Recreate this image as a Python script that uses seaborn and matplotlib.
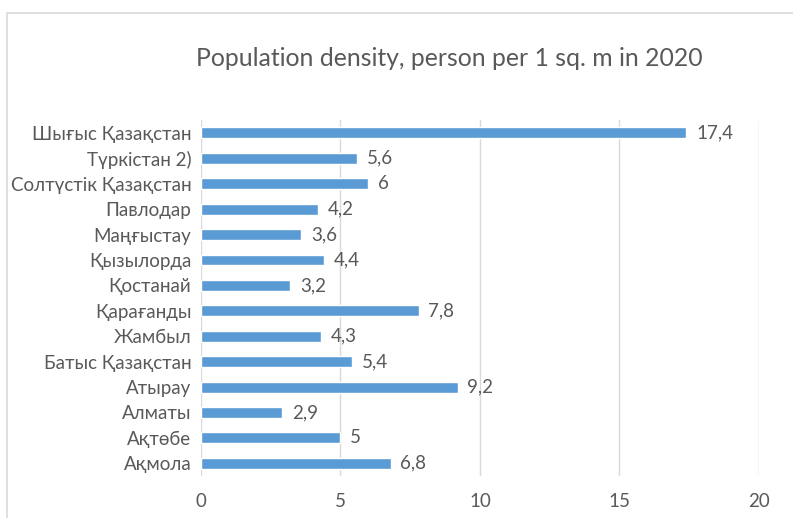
import matplotlib
matplotlib.use("Agg")
import matplotlib.pyplot as plt
import seaborn as sns
import pandas as pd
from matplotlib.lines import Line2D

regions = ["Шығыс Қазақстан", "Түркістан 2)", "Солтүстік Қазақстан", "Павлодар",
           "Маңғыстау", "Қызылорда", "Қостанай", "Қарағанды", "Жамбыл",
           "Батыс Қазақстан", "Атырау", "Алматы", "Ақтөбе", "Ақмола"]
density = [17.4, 5.6, 6, 4.2, 3.6, 4.4, 3.2, 7.8, 4.3, 5.4, 9.2, 2.9, 5, 6.8]
xticks = [0, 5, 10, 15, 20]
title = "Population density, person per 1 sq. m in 2020"

sns.set_theme(style="white")
plt.rcParams['font.family'] = ['Lato', 'DejaVu Sans']

df = pd.DataFrame({"region": regions, "density": density})

fig = plt.figure(figsize=(7.93, 5.18), dpi=100)
ax = fig.add_axes([0.2535, 0.081, 0.7035, 0.687])

sns.barplot(data=df, y="region", x="density", orient="h", color="#5B9BD5",
            saturation=1, width=0.43, ax=ax)

ax.set_xlim(0, 20)
ax.set_xticks(xticks)
ax.set_xticklabels([str(t) for t in xticks])
ax.xaxis.grid(True, color="#D9D9D9", linewidth=1)
ax.set_axisbelow(True)
for s in ax.spines.values():
    s.set_visible(False)
ax.set_xlabel("")
ax.set_ylabel("")
ax.tick_params(axis="both", length=0, colors="#595959", labelsize=13.5)
ax.tick_params(axis="x", pad=12)
ax.tick_params(axis="y", pad=7)

for i, v in enumerate(density):
    lab = f"{v:g}".replace(".", ",")
    ax.text(v + 0.35, i, lab, va="center", ha="left", color="#595959", fontsize=13.5)

fig.text(0.567, 0.888, title, ha="center", va="center", color="#595959", fontsize=17.8)

fig.add_artist(Line2D([7/793, 7/793], [0, 1 - 13/518], transform=fig.transFigure,
                      color="#D9D9D9", linewidth=1.2))
fig.add_artist(Line2D([7/793, 1], [1 - 13/518, 1 - 13/518], transform=fig.transFigure,
                      color="#D9D9D9", linewidth=1.2))

fig.savefig("out.png", dpi=100)
